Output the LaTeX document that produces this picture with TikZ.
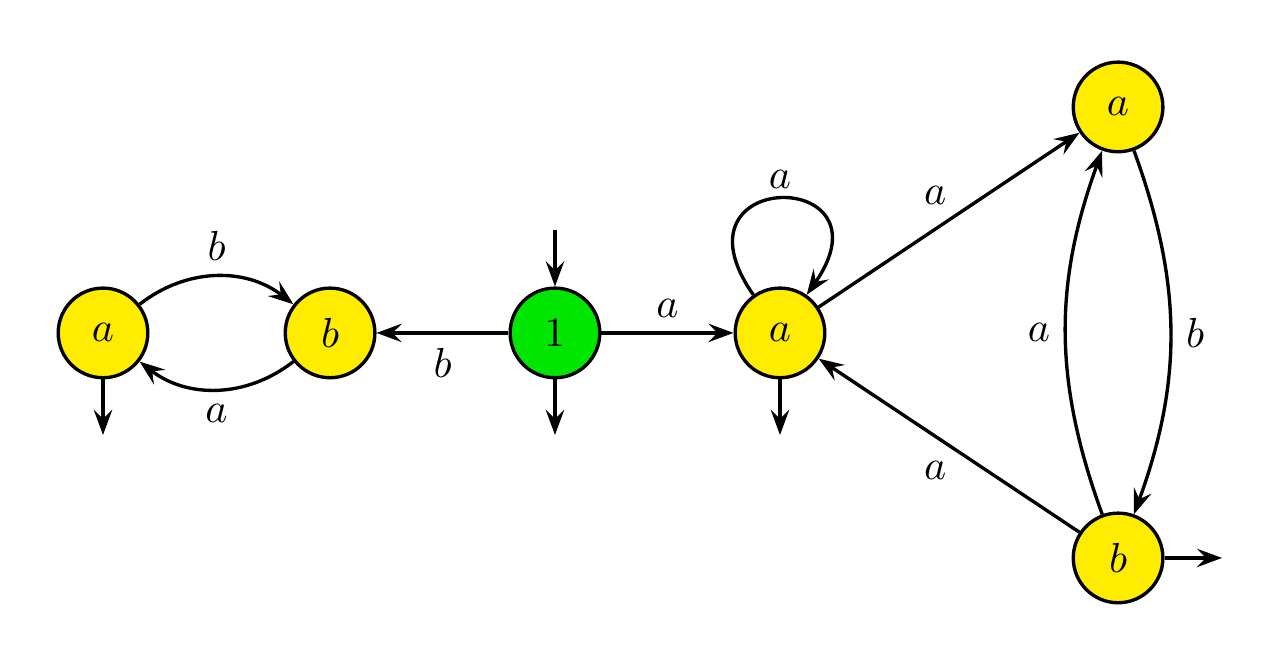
\documentclass[tikz,border=0pt]{standalone}
\usepackage{tikz}
\usepackage{xcolor}
\usetikzlibrary{arrows, arrows.meta, automata, positioning}
\definecolor{stategreen}{RGB}{0,230,0}
\definecolor{stateyellow}{RGB}{255,236,0}

\begin{document}
\begin{tikzpicture}[>={Stealth[length=6pt,width=4.4pt,inset=2.2pt]}, thick, vertices/.style={draw, circle, fill=stateyellow, minimum size=0.75cm, inner sep=0pt}, startvertex/.style={vertices, fill=stategreen}]
        \useasboundingbox (0,0) rectangle (10.711,5.556);
        \node[vertices] (a1) at (0.862,2.770) {$a$};
        \node[vertices] (b1) at (2.762,2.770) {$b$};
        \node[startvertex] (one) at (4.644,2.770) {$1$};
        \node[vertices] (a2) at (6.527,2.770) {$a$};
        \node[vertices] (a3) at (9.356,4.661) {$a$};
        \node[vertices] (b2) at (9.356,0.887) {$b$};

        \coordinate (init) at (4.644,3.632);
        \coordinate (out1) at (0.862,1.916);
        \coordinate (out2) at (4.644,1.916);
        \coordinate (out3) at (6.527,1.916);
        \coordinate (out4) at (10.226,0.887);

        \foreach \from/\to in
        {init/one,a1/out1,one/out2,a2/out3,b2/out4} \draw [->] (\from)--(\to);
        \foreach \from/\to/\lab/\where/\dx in
        {one/b1/b/below/0pt,one/a2/a/above/0pt,a2/a3/a/above/-3.3pt,b2/a2/a/below/-3.3pt} \draw [->] (\from)-- node[\where, xshift=\dx] {$\lab$} (\to);

        \draw[->] (a1) to[bend left=38] node[above] {$b$} (b1);
        \draw[->] (b1) to[bend left=38] node[below] {$a$} (a1);
        \draw[->] (a3) to[bend left=20] node[right] {$b$} (b2);
        \draw[->] (b2) to[bend left=20] node[left] {$a$} (a3);
        \draw[->] (a2) to[out=125,in=55,looseness=7.5] node[above, inner sep=2pt] {$a$} (a2);
        \end{tikzpicture}
\end{document}
